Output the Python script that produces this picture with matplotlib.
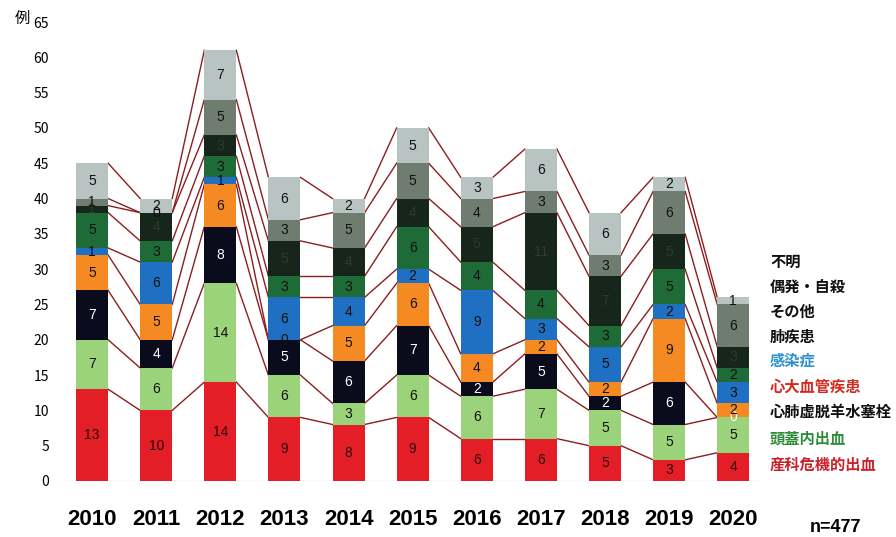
import numpy as np
import matplotlib
matplotlib.use("Agg")
import matplotlib.pyplot as plt

plt.rcParams['font.family'] = ['Noto Sans CJK JP', 'DejaVu Sans']

years = ["2010", "2011", "2012", "2013", "2014", "2015", "2016", "2017", "2018", "2019", "2020"]
# bottom to top
categories = ["産科危機的出血", "頭蓋内出血", "心肺虚脱羊水塞栓", "心大血管疾患", "感染症",
              "肺疾患", "その他", "偶発・自殺", "不明"]
obstetric = [13, 10, 14, 9, 8, 9, 6, 6, 5, 3, 4]
intracranial = [7, 6, 14, 6, 3, 6, 6, 7, 5, 5, 5]
amniotic = [7, 4, 8, 5, 6, 7, 2, 5, 2, 6, 0]
cardio = [5, 5, 6, 0, 5, 6, 4, 2, 2, 9, 2]
infection = [1, 6, 1, 6, 4, 2, 9, 3, 5, 2, 3]
lung = [5, 3, 3, 3, 3, 6, 4, 4, 3, 5, 2]
other = [1, 4, 3, 5, 4, 4, 5, 11, 7, 5, 3]
accident = [1, 0, 5, 3, 5, 5, 4, 3, 3, 6, 6]
unknown = [5, 2, 7, 6, 2, 5, 3, 6, 6, 2, 1]
series = [obstetric, intracranial, amniotic, cardio, infection, lung, other, accident, unknown]

bar_colors = ["#e41e26", "#9bd37a", "#0b0b1e", "#f58a22", "#1f6fc2", "#1f6b38",
              "#17261a", "#6f7c70", "#b7c4c2"]
label_colors = ["#2a0a0a", "#111111", "#ffffff", "#111111", "#111111", "#111111",
                "#2e3a2e", "#111111", "#111111"]
legend_colors = ["#c9202a", "#2e8b3a", "#111111", "#d42a1e", "#2c8fd0",
                 "#111111", "#111111", "#111111", "#111111"]

fig = plt.figure(figsize=(8.96, 5.37), dpi=100)
ax = fig.add_axes([0.067, 0.1043, 0.78, 0.8547])
x = np.arange(len(years))
w = 0.5
bottom = np.zeros(len(years))
for vals, c, lc in zip(series, bar_colors, label_colors):
    vals = np.array(vals, dtype=float)
    ax.bar(x, vals, w, bottom=bottom, color=c, zorder=3)
    for xi, b, v in zip(x, bottom, vals):
        ax.text(xi, b + v / 2, f"{int(v)}", ha="center", va="center", fontsize=10,
                color=lc, zorder=4, family=['Liberation Sans'])
    bottom = bottom + vals
    # connecting lines between segment tops
    for i in range(len(years) - 1):
        ax.plot([x[i] + w / 2, x[i + 1] - w / 2], [bottom[i], bottom[i + 1]],
                color="#8b1e1e", lw=1.0, zorder=2)

ax.axhline(0, color="#bbbbbb", lw=1, ls=":", zorder=1)
ax.set_xlim(-0.5, 10.4)
ax.set_ylim(0, 65)
ax.set_yticks(range(0, 66, 5))
ax.set_xticks(x)
ax.set_xticklabels(years, fontsize=16, fontweight="bold", family=['Liberation Sans'])
ax.tick_params(axis="x", length=0, pad=20)
ax.tick_params(axis="y", length=0, pad=8, labelsize=10)
for s in ax.spines.values():
    s.set_visible(False)

fig.text(15 / 896, 1 - 18 / 537, "例", fontsize=11, va="center", ha="left")
legend_y = [465, 439, 412, 387, 361, 337, 312, 287, 262]
for name, col, yy in zip(categories, legend_colors, legend_y):
    fig.text(770 / 896, 1 - yy / 537, name, color=col, fontsize=11, fontweight="bold",
             va="center", ha="left")
fig.text(810 / 896, 1 - 527 / 537, "n=477", fontsize=13, fontweight="bold",
         va="center", ha="left", family=['Liberation Sans'])

fig.savefig("out.png", dpi=100)
